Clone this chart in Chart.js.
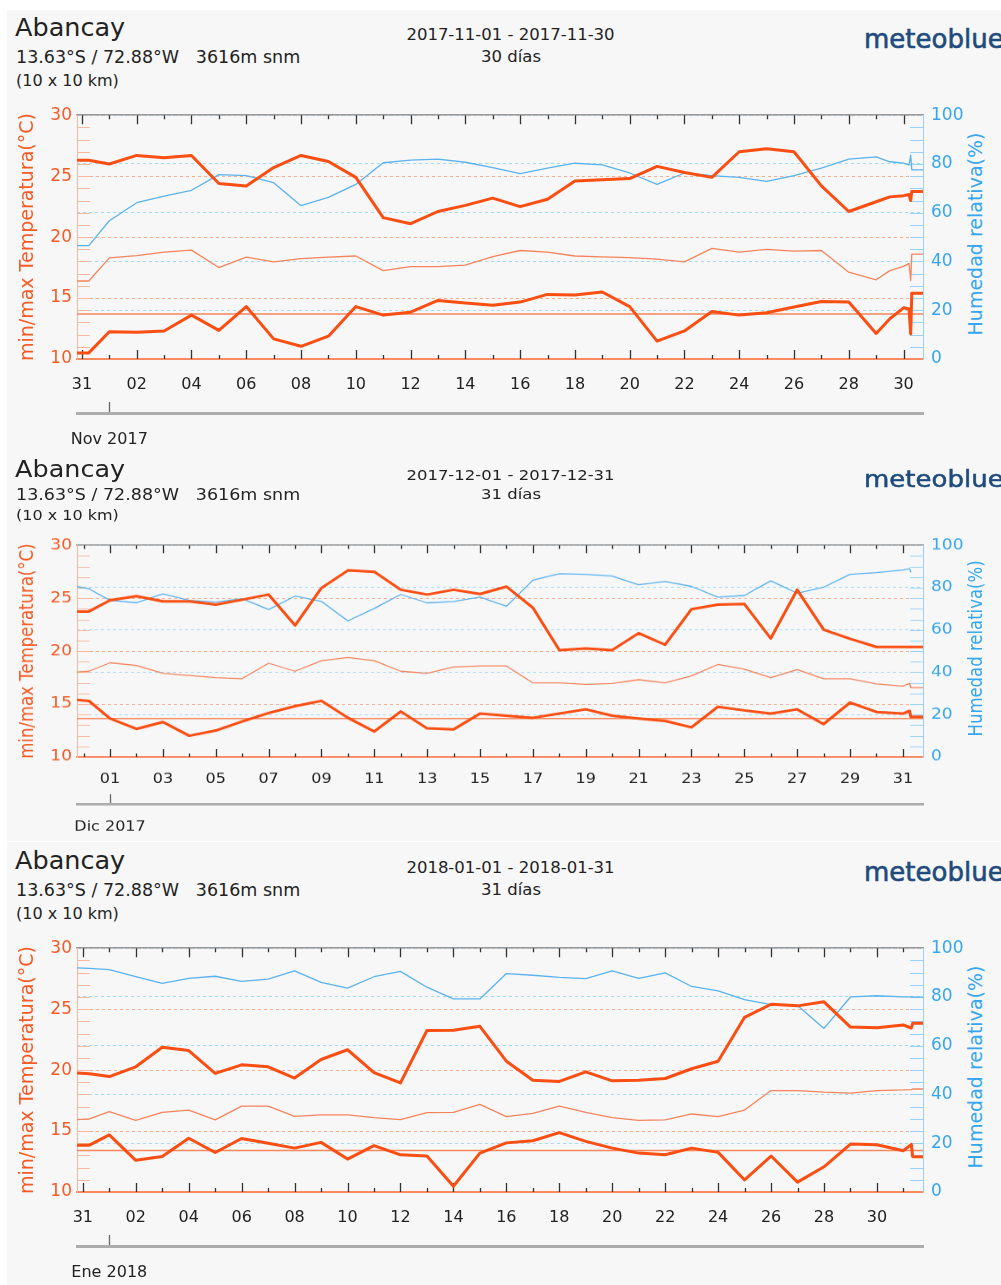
<!DOCTYPE html>
<html><head><meta charset="utf-8">
<script src="https://cdn.jsdelivr.net/npm/chart.js@4.4.1/dist/chart.umd.min.js"></script>
<style>
html,body{margin:0;padding:0;background:#fff;}
body{width:1001px;height:1285px;position:relative;overflow:hidden;font-family:"DejaVu Sans",sans-serif;}
#bg{position:absolute;left:7px;top:10px;width:994px;height:1275px;background:#f7f7f7;}
.sep{position:absolute;left:7px;width:994px;height:1px;background:#fff;}
.panel{position:absolute;left:0;width:1001px;height:446px;transform-origin:0 0;}
.t{position:absolute;white-space:pre;line-height:1;color:#222;font-family:"DejaVu Sans",sans-serif;}
canvas{position:absolute;left:0;}
</style></head><body>
<div id="bg"></div>
<div class="sep" style="top:841px"></div>
<script>
// ---------- DATA ----------
const place = 'Abancay';
const coords = '13.63°S / 72.88°W   3616m snm';
const gridInfo = '(10 x 10 km)';

// Nov 2017 (day 0 = Oct 31)
const novDays  = [-0.18,0.25,1,2,3,4,5,6,7,8,9,10,11,12,13,14,15,16,17,18,19,20,21,22,23,24,25,26,27,28,29,29.5,30,30.2,30.26,30.3,30.71];
const novMax   = [26.3,26.3,26.0,26.7,26.5,26.7,24.4,24.2,25.7,26.7,26.2,24.9,21.6,21.1,22.1,22.6,23.2,22.5,23.1,24.6,24.7,24.8,25.8,25.3,24.9,27.0,27.25,27.0,24.2,22.1,22.9,23.3,23.4,23.5,23.0,23.75,23.75];
const novMin   = [10.5,10.5,12.24,12.2,12.3,13.6,12.35,14.3,11.65,11.04,11.87,14.3,13.6,13.84,14.8,14.6,14.4,14.67,15.3,15.25,15.5,14.3,11.47,12.3,13.9,13.6,13.8,14.27,14.72,14.67,12.1,13.3,14.2,14.1,12.05,15.4,15.4];
const novMean  = [16.4,16.4,18.3,18.48,18.77,18.93,17.5,18.35,17.97,18.24,18.35,18.45,17.25,17.57,17.57,17.7,18.4,18.9,18.77,18.45,18.37,18.32,18.19,17.97,19.07,18.77,18.99,18.85,18.9,17.12,16.5,17.25,17.6,17.84,16.45,18.6,18.6];
const novHum   = [46.5,46.5,56.7,64.1,66.8,69.2,75.6,75.2,72.3,62.9,66.3,71.6,80.5,81.6,82,80.7,78.5,76,78.3,80.3,79.6,76.3,71.6,76.3,75.2,74.5,72.9,75.2,78.3,82,82.9,80.9,80.3,79.5,83.6,77.6,77.6];
const novRef   = 13.7;
const novTickDays   = [0,2,4,6,8,10,12,14,16,18,20,22,24,26,28,30];
const novTickLabels = ['31','02','04','06','08','10','12','14','16','18','20','22','24','26','28','30'];

// Dic 2017 (day 0 = Nov 30)
const decDays  = [-0.25,0.2,1,2,3,4,5,6,7,8,9,10,11,12,13,14,15,16,17,18,19,20,21,22,23,24,25,26,27,28,29,30,31,31.25,31.3,31.76];
const decMax   = [23.75,23.75,24.8,25.2,24.7,24.7,24.4,24.86,25.35,22.43,25.97,27.63,27.5,25.8,25.35,25.8,25.4,26.1,24.1,20.1,20.25,20.1,21.7,20.6,23.97,24.4,24.46,21.2,25.8,22.03,21.17,20.4,20.4,20.4,20.4,20.4];
const decMin   = [15.4,15.3,13.63,12.65,13.3,12.0,12.5,13.35,14.15,14.8,15.3,13.7,12.4,14.3,12.7,12.6,14.1,13.9,13.7,14.1,14.5,13.9,13.63,13.4,12.8,14.74,14.4,14.1,14.5,13.1,15.14,14.25,14.1,14.35,13.8,13.8];
const decMean  = [18.03,18.1,18.9,18.65,17.9,17.7,17.5,17.4,18.86,18.1,19.1,19.4,19.1,18.1,17.9,18.5,18.6,18.6,17.0,17.0,16.86,16.95,17.3,17.0,17.66,18.74,18.3,17.5,18.25,17.4,17.4,16.9,16.7,16.95,16.55,16.55];
const decHum   = [80.5,79.5,74,72.9,77.1,74,73.2,74.8,69.7,76,73.5,64.3,70.2,76.8,72.8,73.5,75.5,71.2,83.5,86.6,86.3,85.5,81.4,82.9,80.6,75.5,76.3,83.2,77.4,80.2,86.3,87.1,88.3,89,87.2,null];
const decRef   = 13.63;
const decTickDays   = [1,3,5,7,9,11,13,15,17,19,21,23,25,27,29,31];
const decTickLabels = ['01','03','05','07','09','11','13','15','17','19','21','23','25','27','29','31'];

// Ene 2018 (day 0 = Dec 31)
const janDays  = [-0.22,0.25,1,2,3,4,5,6,7,8,9,10,11,12,13,14,15,16,17,18,19,20,21,22,23,24,25,26,27,28,29,30,31,31.3,31.35,31.74];
const janMax   = [19.76,19.7,19.47,20.27,21.87,21.6,19.73,20.43,20.27,19.35,20.87,21.67,19.8,18.95,23.25,23.27,23.59,20.73,19.17,19.07,19.85,19.12,19.17,19.31,20.11,20.73,24.33,25.4,25.27,25.6,23.53,23.47,23.7,23.45,23.84,23.84];
const janMin   = [13.84,13.84,14.68,12.6,12.92,14.41,13.24,14.39,14.0,13.6,14.07,12.7,13.8,13.05,12.95,10.47,13.19,14.03,14.2,14.87,14.15,13.6,13.19,13.05,13.6,13.25,10.99,12.95,10.81,12.07,13.93,13.87,13.39,13.9,12.9,12.9];
const janMean  = [15.93,16.0,16.6,15.87,16.53,16.72,15.92,17.04,17.04,16.2,16.32,16.32,16.1,15.93,16.51,16.53,17.19,16.19,16.45,17.04,16.53,16.1,15.87,15.92,16.4,16.19,16.72,18.32,18.32,18.19,18.11,18.32,18.37,18.4,18.45,18.45];
const janHum   = [91.9,91.7,91.2,88.3,85.6,87.6,88.5,86.4,87.3,90.7,86,83.6,88.3,90.5,84,79.2,79.2,89.6,88.9,88,87.5,90.7,87.6,89.9,84.3,82.5,78.9,76.9,76.5,67.1,80,80.5,80,80,79.9,79.9];
const janRef   = 13.4;
const janTickDays   = novTickDays;
const janTickLabels = ['31','02','04','06','08','10','12','14','16','18','20','22','24','26','28','30'];

// ---------- STYLE ----------
const FONT = '"DejaVu Sans", sans-serif';
const C_THICK = '#fa4e12';
const C_MEAN  = '#f5845d';
const C_REF   = '#f7875d';
const C_HUM   = '#5ab3ee';
const C_LTXT  = '#f65b26';
const C_RTXT  = '#35a6ef';

const panels = [
  {top:10,  sy:1,     range:'2017-11-01 - 2017-11-30', ndays:'30 días', month:'Nov 2017',
   days:novDays, max:novMax, min:novMin, mean:novMean, hum:novHum, ref:novRef, tickDays:novTickDays, tickLabels:novTickLabels},
  {top:454, sy:0.868, range:'2017-12-01 - 2017-12-31', ndays:'31 días', month:'Dic 2017',
   days:decDays, max:decMax, min:decMin, mean:decMean, hum:decHum, ref:decRef, tickDays:decTickDays, tickLabels:decTickLabels},
  {top:843, sy:1,     range:'2018-01-01 - 2018-01-31', ndays:'31 días', month:'Ene 2018',
   days:janDays, max:janMax, min:janMin, mean:janMean, hum:janHum, ref:janRef, tickDays:janTickDays, tickLabels:janTickLabels}
];

function addText(parent, txt, css){
  const d = document.createElement('div');
  d.className = 't';
  d.textContent = txt;
  Object.assign(d.style, css);
  parent.appendChild(d);
  return d;
}

function buildPanel(p){
  const el = document.createElement('div');
  el.className = 'panel';
  el.style.top = p.top + 'px';
  el.style.transform = 'scaleY(' + p.sy + ')';
  document.body.appendChild(el);

  addText(el, place,    {left:'15px', top:'5px', fontSize:'25.5px'});
  addText(el, coords,   {left:'16px', top:'39px', fontSize:'17.5px'});
  addText(el, gridInfo, {left:'16px', top:'62.5px', fontSize:'16px'});
  addText(el, p.range,  {left:'510.5px', top:'16.5px', fontSize:'16.5px', transform:'translateX(-50%)'});
  addText(el, p.ndays,  {left:'511px', top:'39px', fontSize:'16.5px', transform:'translateX(-50%)'});
  addText(el, 'meteoblue', {left:'864px', top:'16px', fontSize:'26px', color:'#1e4b7d',
          webkitTextStroke:'0.6px #1e4b7d'});
  addText(el, 'Humedad relativa(%)', {left:'975px', top:'224px', fontSize:'19px', color:C_RTXT,
          transform:'translate(-50%,-50%) rotate(-90deg)'});

  const cv = document.createElement('canvas');
  cv.width = 1001; cv.height = 358;
  cv.style.top = '87px';
  el.appendChild(cv);

  const xMin = p.days[0], xMax = p.days[p.days.length-1];
  const pts = arr => p.days.map((d,i) => ({x:d, y:arr[i]}));

  const inwardTicks = {
    id:'inwardTicks',
    beforeDatasetsDraw(chart){
      const {ctx, chartArea:a, scales} = chart;
      ctx.save();
      ctx.strokeStyle = '#333'; ctx.lineWidth = 1.3;
      for (let d = Math.ceil(xMin); d <= Math.floor(xMax); d++){
        const px = Math.round(scales.x.getPixelForValue(d)) + 0.5;
        const len = p.tickDays.includes(d) ? 9 : 4;
        ctx.beginPath();
        ctx.moveTo(px, a.top); ctx.lineTo(px, a.top + len);
        ctx.moveTo(px, a.bottom); ctx.lineTo(px, a.bottom - len);
        ctx.stroke();
      }
      ctx.strokeStyle = '#f9b79d'; ctx.lineWidth = 1;
      for (let t = 11; t <= 29; t++){
        const py = Math.round(scales.y.getPixelForValue(t)) + 0.5;
        ctx.beginPath(); ctx.moveTo(a.left, py); ctx.lineTo(a.left + 13, py); ctx.stroke();
      }
      ctx.strokeStyle = '#95d2f6';
      for (let h = 5; h <= 95; h += 5){
        const py = Math.round(scales.y2.getPixelForValue(h)) + 0.5;
        ctx.beginPath(); ctx.moveTo(a.right - 13, py); ctx.lineTo(a.right, py); ctx.stroke();
      }
      ctx.strokeStyle = '#666'; ctx.lineWidth = 1.3;
      const mx = Math.round(scales.x2.getPixelForValue(1)) + 0.5;
      const by = scales.x2.top;
      ctx.beginPath(); ctx.moveTo(mx, by - 1); ctx.lineTo(mx, by - 11); ctx.stroke();
      ctx.restore();
    }
  };

  new Chart(cv, {
    type:'line',
    data:{datasets:[
      {label:'max',  data:pts(p.max),  borderColor:C_THICK, borderWidth:3, yAxisID:'y'},
      {label:'min',  data:pts(p.min),  borderColor:C_THICK, borderWidth:3, yAxisID:'y'},
      {label:'ref',  data:[{x:xMin,y:p.ref},{x:xMax,y:p.ref}], borderColor:C_REF, borderWidth:1.5, yAxisID:'y'},
      {label:'mean', data:pts(p.mean), borderColor:C_MEAN, borderWidth:1.3, yAxisID:'y'},
      {label:'hum',  data:pts(p.hum),  borderColor:C_HUM,  borderWidth:1.3, yAxisID:'y2'}
    ]},
    options:{
      responsive:false, animation:false,
      layout:{padding:{top:12, left:0, right:0, bottom:0}},
      elements:{point:{radius:0}, line:{tension:0, borderJoinStyle:'round'}},
      plugins:{legend:{display:false}, tooltip:{enabled:false}},
      scales:{
        x:{type:'linear', position:'bottom', min:xMin, max:xMax, weight:0,
           afterBuildTicks:s => { s.ticks = p.tickDays.map(v => ({value:v})); },
           afterFit:s => { s.height = 54; },
           ticks:{autoSkip:false, maxRotation:0, padding:16, color:'#222', font:{family:FONT, size:16},
                  callback:(v,i) => p.tickLabels[i]},
           grid:{display:false, drawTicks:false},
           border:{display:true, color:'#f98a62', width:2}},
        x2:{type:'linear', position:'bottom', min:xMin, max:xMax, weight:1,
           afterBuildTicks:s => { s.ticks = [{value:1}]; },
           afterFit:s => { s.height = 42; },
           ticks:{autoSkip:false, maxRotation:0, padding:17, color:'#222', font:{family:FONT, size:16},
                  callback:() => p.month},
           grid:{display:false, drawTicks:false},
           border:{display:true, color:'#adadad', width:3}},
        xt:{type:'linear', position:'top', min:xMin, max:xMax,
           afterFit:s => { s.height = 0; },
           ticks:{display:false}, grid:{display:false, drawTicks:false},
           border:{display:true, color:'#9a9a9a', width:1.5}},
        y:{type:'linear', position:'left', min:10, max:30,
           afterFit:s => { s.width = 77; },
           ticks:{stepSize:5, padding:5, color:C_LTXT, font:{family:FONT, size:17}},
           grid:{drawTicks:false, lineWidth:1,
                 color:ctx => (ctx.tick && ctx.tick.value === 10) ? 'rgba(0,0,0,0)' : '#f9ab8c'},
           border:{display:true, color:'#f9b79d', width:1, dash:[3,3]},
           title:{display:true, text:'min/max Temperatura(°C)', color:C_LTXT,
                  font:{family:FONT, size:19}, padding:{top:17, bottom:0}}},
        y2:{type:'linear', position:'right', min:0, max:100,
           afterFit:s => { s.width = 78; },
           ticks:{stepSize:20, padding:8, color:C_RTXT, font:{family:FONT, size:17}},
           grid:{drawTicks:false, lineWidth:1,
                 color:ctx => (ctx.tick && ctx.tick.value === 0) ? 'rgba(0,0,0,0)' : '#a3dbf9'},
           border:{display:true, color:'#95d2f6', width:1, dash:[3,3]}}
      }
    },
    plugins:[inwardTicks]
  });
}

panels.forEach(buildPanel);
</script>
</body></html>
